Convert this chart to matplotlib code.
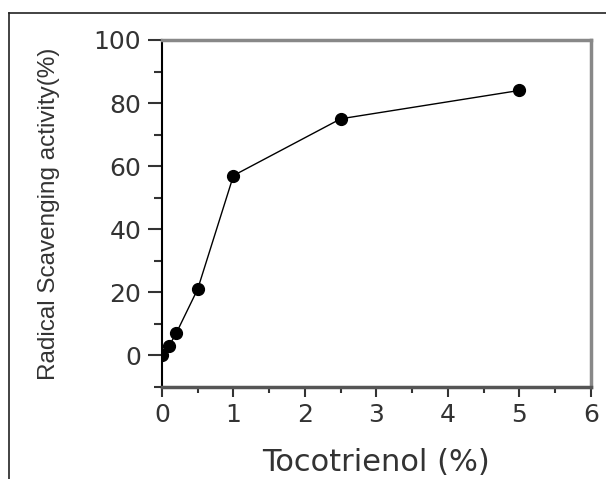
import matplotlib
matplotlib.use("Agg")
import matplotlib.pyplot as plt
from matplotlib.lines import Line2D
from matplotlib.ticker import MultipleLocator

concentration = [0, 0.1, 0.2, 0.5, 1, 2.5, 5]
activity = [0, 3, 7, 21, 57, 75, 84]
x_ticks = [0, 1, 2, 3, 4, 5, 6]
y_ticks = [0, 20, 40, 60, 80, 100]
x_label = "Tocotrienol (%)"
y_label = "Radical Scavenging activity(%)"

plt.rcParams['font.family'] = ['DejaVu Sans']

fig = plt.figure(figsize=(6.06, 4.79), dpi=100)
ax = fig.add_axes([0.2673, 0.1927, 0.9752 - 0.2673, 0.9165 - 0.1927])

ax.plot(concentration, activity, color='black', lw=1.0, marker='o',
        markersize=8.5, markerfacecolor='black', markeredgecolor='black')

ax.set_xlim(0, 6)
ax.set_ylim(-10, 100)
ax.set_xticks(x_ticks)
ax.set_yticks(y_ticks)
ax.xaxis.set_minor_locator(MultipleLocator(0.5))
ax.yaxis.set_minor_locator(MultipleLocator(10))

ax.tick_params(axis='x', which='major', direction='out', length=7, width=1.5,
               pad=5, labelsize=18, labelcolor='#333333', color='#333333')
ax.tick_params(axis='x', which='minor', direction='out', length=4, width=1.5, color='#333333')
ax.tick_params(axis='y', which='major', direction='out', length=10, width=1.5,
               pad=5, labelsize=18, labelcolor='#333333', color='#333333')
ax.tick_params(axis='y', which='minor', direction='out', length=6, width=1.5, color='#333333')

ax.spines['left'].set_color('black')
ax.spines['left'].set_linewidth(1.5)
ax.spines['bottom'].set_color('#555555')
ax.spines['bottom'].set_linewidth(2.5)
for s in ['top', 'right']:
    ax.spines[s].set_color('#888888')
    ax.spines[s].set_linewidth(2.5)

ax.set_xlabel(x_label, fontsize=22, color='#333333', labelpad=15)
ax.set_ylabel(y_label, fontsize=17.5, color='#333333', labelpad=24,
              family=['Liberation Sans'])

# outer border (top and left only)
W, H = 606, 479
fig.add_artist(Line2D([8.5 / W, 1.0], [1 - 12.5 / H, 1 - 12.5 / H],
                      transform=fig.transFigure, color='#222222', lw=1.2))
fig.add_artist(Line2D([8.5 / W, 8.5 / W], [0, 1 - 12.5 / H],
                      transform=fig.transFigure, color='#222222', lw=1.2))

fig.savefig("out.png", dpi=100)
